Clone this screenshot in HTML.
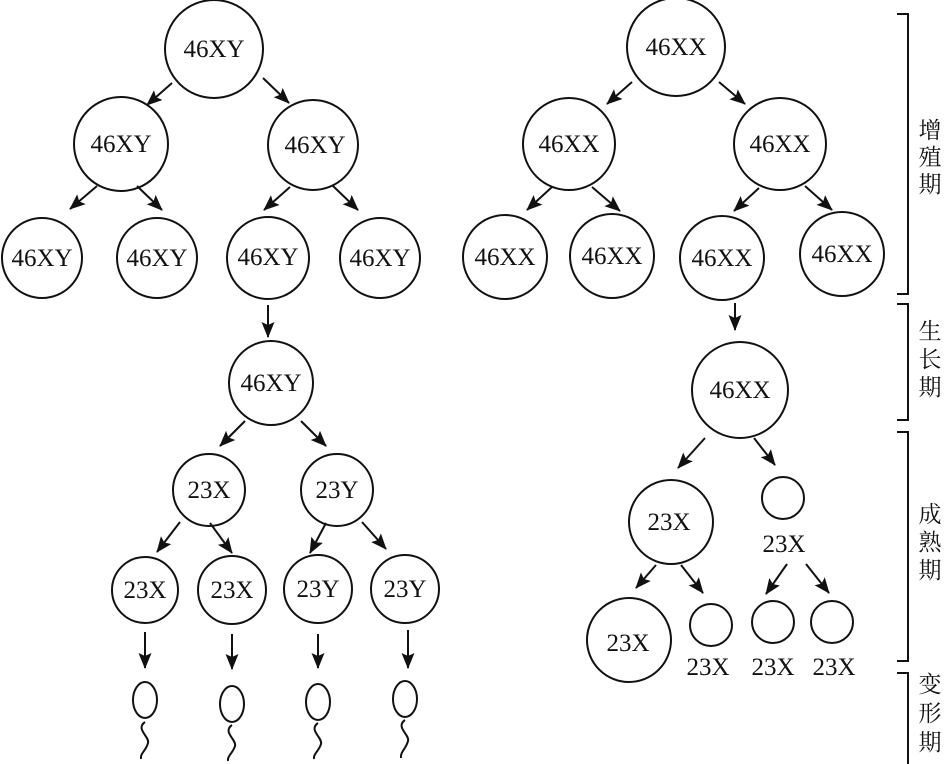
<!DOCTYPE html>
<html><head><meta charset="utf-8"><style>
html,body{margin:0;padding:0;background:#fff;}
svg{display:block;}
text{font-family:"Liberation Serif","Noto Serif CJK SC",serif;fill:#111;}
</style></head><body>
<svg width="946" height="764" viewBox="0 0 946 764" xmlns="http://www.w3.org/2000/svg">
<defs>
<marker id="a" viewBox="0 0 16 13" refX="15" refY="6.5" markerWidth="16" markerHeight="13" orient="auto" markerUnits="userSpaceOnUse">
<path d="M0,0 L16,6.5 L0,13 L3,6.5 Z" fill="#111"/>
</marker>
</defs>
<g fill="none" stroke="#111" stroke-width="2">
<circle cx="214" cy="49" r="49"/>
<circle cx="121" cy="144" r="47"/>
<circle cx="313" cy="145" r="45"/>
<circle cx="42" cy="258" r="40"/>
<circle cx="157" cy="258" r="40"/>
<circle cx="268" cy="258" r="41"/>
<circle cx="380" cy="258" r="40"/>
<circle cx="271" cy="383" r="42"/>
<circle cx="209" cy="490" r="36"/>
<circle cx="337" cy="490" r="36"/>
<circle cx="145" cy="590" r="33"/>
<circle cx="232" cy="590" r="34"/>
<circle cx="318" cy="589" r="34"/>
<circle cx="405" cy="589" r="34"/>
<ellipse cx="145" cy="700" rx="12" ry="18"/>
<path d="M145,722 C135,729 150,737 148,743 C146,751 140,753 141,759"/>
<ellipse cx="232" cy="704" rx="12" ry="18"/>
<path d="M232,725 C222,732 237,740 235,746 C233,753 227,756 228,761"/>
<ellipse cx="318" cy="702" rx="12" ry="18"/>
<path d="M318,723 C308,730 323,738 321,744 C319,751 313,754 314,759"/>
<ellipse cx="405" cy="699" rx="12" ry="18"/>
<path d="M405,720 C395,727 410,735 408,741 C406,749 400,752 401,758"/>
<circle cx="676" cy="47" r="49"/>
<circle cx="569" cy="144" r="46"/>
<circle cx="780" cy="144" r="46"/>
<circle cx="505" cy="257" r="42"/>
<circle cx="612" cy="256" r="42"/>
<circle cx="722" cy="258" r="42"/>
<circle cx="842" cy="254" r="42"/>
<circle cx="740" cy="390" r="48"/>
<circle cx="671" cy="522" r="42"/>
<circle cx="783" cy="498" r="21"/>
<circle cx="629" cy="640" r="42"/>
<circle cx="711" cy="625" r="21"/>
<circle cx="773" cy="622" r="21"/>
<circle cx="832" cy="622" r="21"/>
<path d="M897,14 H908 V294 H897"/>
<path d="M897,304 H908 V420 H897"/>
<path d="M897,432 H908 V661 H897"/>
<path d="M897,673 H908 V778 H897"/>
</g>
<g stroke="#111" stroke-width="2" marker-end="url(#a)">
<line x1="172" y1="83" x2="147" y2="105"/>
<line x1="263" y1="78" x2="289" y2="103"/>
<line x1="97" y1="186" x2="70" y2="209"/>
<line x1="137" y1="186" x2="162" y2="210"/>
<line x1="290" y1="187" x2="264" y2="210"/>
<line x1="333" y1="186" x2="358" y2="210"/>
<line x1="268" y1="305" x2="268" y2="337"/>
<line x1="245" y1="421" x2="220" y2="446"/>
<line x1="301" y1="421" x2="326" y2="446"/>
<line x1="180" y1="522" x2="157" y2="552"/>
<line x1="210" y1="523" x2="232" y2="553"/>
<line x1="326" y1="523" x2="310" y2="553"/>
<line x1="362" y1="522" x2="386" y2="549"/>
<line x1="145" y1="632" x2="145" y2="668"/>
<line x1="232" y1="634" x2="232" y2="669"/>
<line x1="318" y1="634" x2="318" y2="668"/>
<line x1="408" y1="630" x2="408" y2="668"/>
<line x1="632" y1="82" x2="607" y2="104"/>
<line x1="719" y1="82" x2="745" y2="104"/>
<line x1="552" y1="187" x2="527" y2="210"/>
<line x1="592" y1="187" x2="620" y2="211"/>
<line x1="759" y1="188" x2="734" y2="211"/>
<line x1="805" y1="186" x2="832" y2="210"/>
<line x1="735" y1="303" x2="735" y2="330"/>
<line x1="705" y1="438" x2="678" y2="468"/>
<line x1="754" y1="438" x2="775" y2="465"/>
<line x1="656" y1="565" x2="636" y2="588"/>
<line x1="681" y1="565" x2="703" y2="593"/>
<line x1="787" y1="564" x2="766" y2="594"/>
<line x1="806" y1="564" x2="829" y2="593"/>
</g>
<g font-size="25" text-anchor="middle">
<text x="214" y="57">46XY</text>
<text x="121" y="152">46XY</text>
<text x="315" y="153">46XY</text>
<text x="42" y="266">46XY</text>
<text x="157" y="266">46XY</text>
<text x="268" y="265">46XY</text>
<text x="380" y="266">46XY</text>
<text x="271" y="391">46XY</text>
<text x="209" y="498">23X</text>
<text x="337" y="498">23Y</text>
<text x="145" y="598">23X</text>
<text x="232" y="598">23X</text>
<text x="318" y="597">23Y</text>
<text x="405" y="597">23Y</text>
<text x="676" y="55">46XX</text>
<text x="569" y="152">46XX</text>
<text x="780" y="152">46XX</text>
<text x="505" y="265">46XX</text>
<text x="612" y="264">46XX</text>
<text x="722" y="266">46XX</text>
<text x="842" y="262">46XX</text>
<text x="740" y="398">46XX</text>
<text x="669" y="530">23X</text>
<text x="784" y="552">23X</text>
<text x="628" y="651">23X</text>
<text x="708" y="675">23X</text>
<text x="773" y="675">23X</text>
<text x="834" y="675">23X</text>
</g>
<g font-size="23" text-anchor="middle" fill="#333">
<text x="930" y="138">增</text>
<text x="930" y="165">殖</text>
<text x="930" y="192">期</text>
<text x="930" y="339">生</text>
<text x="930" y="367">长</text>
<text x="930" y="395">期</text>
<text x="930" y="522">成</text>
<text x="930" y="550">熟</text>
<text x="930" y="578">期</text>
<text x="930" y="692">变</text>
<text x="930" y="721">形</text>
<text x="930" y="750">期</text>
</g>
</svg>
</body></html>
